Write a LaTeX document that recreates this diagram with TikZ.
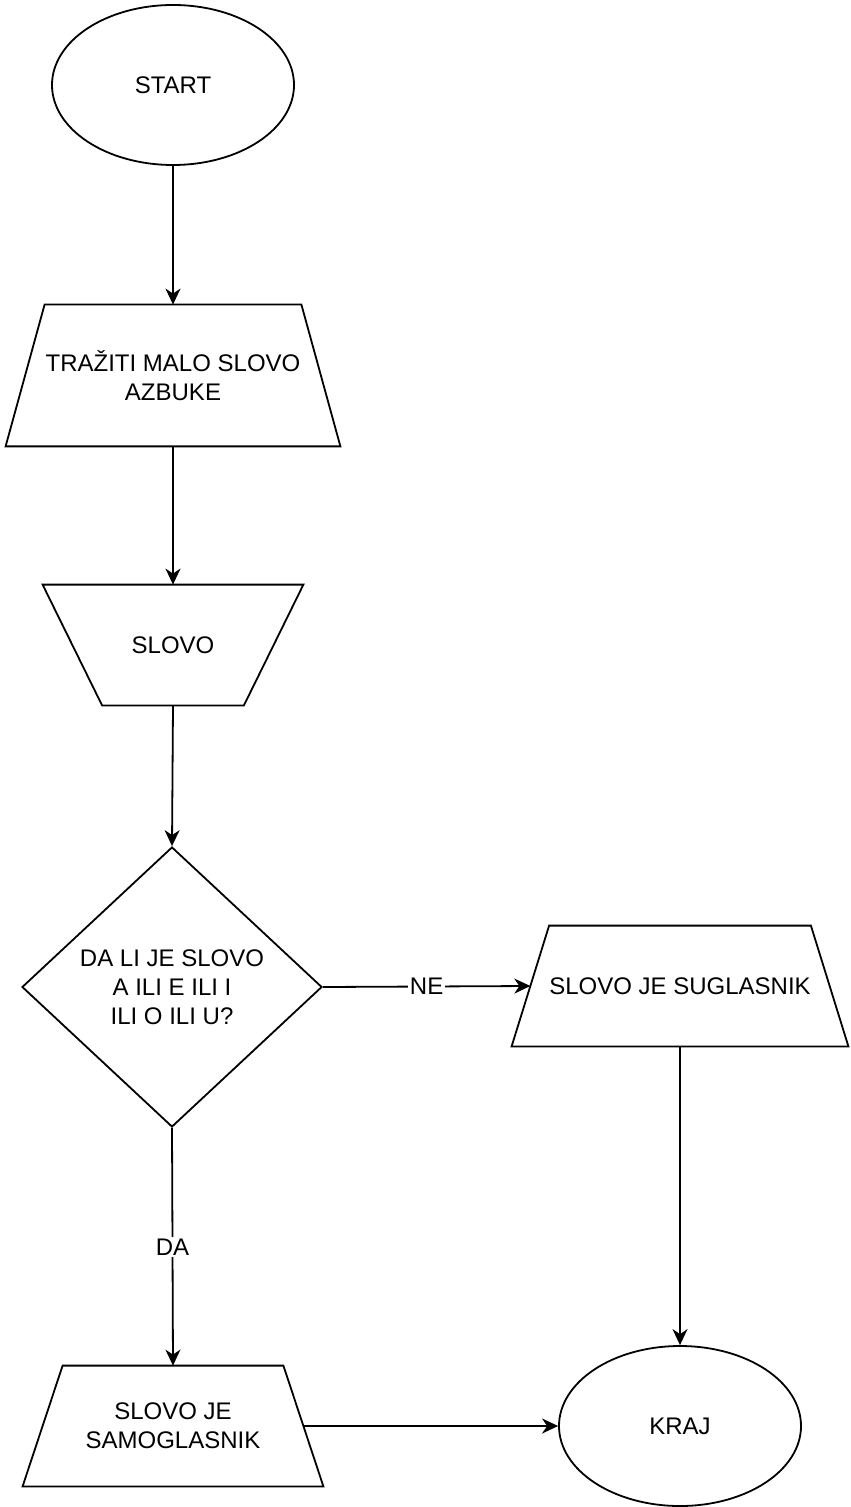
\documentclass[tikz,border=0pt]{standalone}
\usepackage{fontspec}
\setmainfont{Liberation Sans}
\usetikzlibrary{shapes.geometric,arrows.meta}
\begin{document}
\begin{tikzpicture}[x=0.5pt,y=-0.5pt,
  every node/.style={font=\fontsize{12pt}{14.5pt}\selectfont, align=center, inner sep=0pt},
  shp/.style={draw=black, line width=0.9pt},
  terminal/.style={shp, ellipse, minimum width=121pt, minimum height=80pt},
  iobox/.style={rectangle, minimum height=60pt},
  decision/.style={shp, diamond, minimum width=150pt, minimum height=140pt},
  flow/.style={line width=0.9pt, -{Stealth[length=8pt,width=7.5pt,inset=2.5pt]}},
  tag/.style={fill=white, inner sep=1pt}
]
\useasboundingbox (0,0) rectangle (850,1507);

% shapes
\node[terminal] (start) at (173,85) {START};
\node[iobox, minimum width=167pt, minimum height=70.5pt] (t1) at (173,375.5)
      {TRAŽITI MALO SLOVO\\AZBUKE};
\node[iobox, minimum width=130pt] (t2) at (173,645) {SLOVO};
\node[decision] (dec) at (172,987) {DA LI JE SLOVO\\A ILI E ILI I\\ILI O ILI U?};
\node[iobox, minimum width=168pt] (t3) at (680,986) {SLOVO JE SUGLASNIK};
\node[iobox, minimum width=150pt] (t4) at (173,1426) {SLOVO JE\\SAMOGLASNIK};
\node[terminal] (kraj) at (680,1426) {KRAJ};

% trapezoid outlines (wide side down, except the SLOVO box)
\draw[shp] ([xshift=19.5pt]t1.north west) -- ([xshift=-19.5pt]t1.north east)
  -- (t1.south east) -- (t1.south west) -- cycle;
\draw[shp] (t2.north west) -- (t2.north east)
  -- ([xshift=-29.75pt]t2.south east) -- ([xshift=29.75pt]t2.south west) -- cycle;
\draw[shp] ([xshift=18.75pt]t3.north west) -- ([xshift=-18.75pt]t3.north east)
  -- (t3.south east) -- (t3.south west) -- cycle;
\draw[shp] ([xshift=20pt]t4.north west) -- ([xshift=-20pt]t4.north east)
  -- (t4.south east) -- (t4.south west) -- cycle;

% connectors
\draw[flow] (start) -- (t1.north);
\draw[flow] (t1.south) -- (t2.north);
\draw[flow] (t2.south) -- (dec.north);
\draw[flow] (dec.east) -- node[tag] (ne) {NE} ([xshift=9.375pt]t3.west);
\draw[flow] (dec.south) -- node[tag] (da) {DA} (t4.north);
\draw[flow] (t3.south) -- (kraj.north);
\draw[flow] ([xshift=-10pt]t4.east) -- (kraj.west);
\end{tikzpicture}
\end{document}
